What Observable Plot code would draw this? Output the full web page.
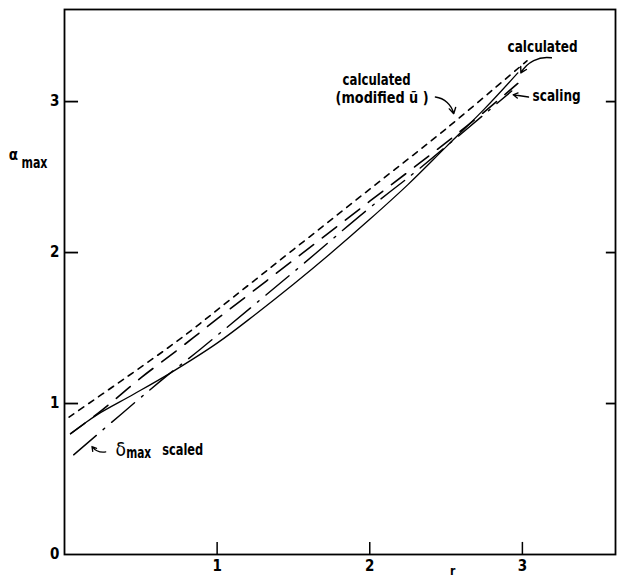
<!DOCTYPE html>
<html><head><meta charset="utf-8">
<script src="https://cdn.jsdelivr.net/npm/d3@7"></script>
<script src="https://cdn.jsdelivr.net/npm/@observablehq/plot@0.6"></script>
<style>body{margin:0;background:#fff}</style>
</head><body><div id="chart"></div>
<script>
// ---- data ----
const xTicks = [1, 2, 3];
const yTicks = [0, 1, 2, 3];

// calculated (solid)
const calcR = [0.04, 0.12, 0.22, 0.45, 0.69, 1.0, 1.25, 1.5, 1.75, 2.0, 2.25, 2.5, 2.75, 2.97];
const calcA = [0.80, 0.86, 0.93, 1.06, 1.20, 1.40, 1.59, 1.79, 2.00, 2.22, 2.45, 2.70, 2.95, 3.19];
// scaling (long dashes)
const scalR = [0.04, 0.25, 0.5, 0.76, 1.0, 1.5, 2.0, 2.4, 2.7, 2.97];
const scalA = [0.80, 0.96, 1.17, 1.37, 1.56, 1.95, 2.34, 2.65, 2.89, 3.12];
// calculated (modified u~) (short dashes)
const modR = [0.03, 0.4, 0.76, 1.1, 1.5, 2.0, 2.5, 3.03];
const modA = [0.91, 1.17, 1.43, 1.70, 2.02, 2.42, 2.82, 3.27];
// delta_max scaled (dash-dot)
const delR = [0.06, 0.63, 0.89, 1.5, 1.98, 2.33, 2.93];
const delA = [0.66, 1.15, 1.36, 1.87, 2.28, 2.56, 3.07];

// annotation texts
const labels = [
  {x: 2.903, y: 3.36, t: "calculated", w: 70, fs: 16},
  {x: 1.822, y: 3.145, t: "calculated", w: 68, fs: 16},
  {x: 1.776, y: 3.025, t: "(modified ũ )", w: 93, fs: 16},
  {x: 3.067, y: 3.036, t: "scaling", w: 48, fs: 16},
  {x: 0.404, y: 0.674, t: "max", w: 25, fs: 15},
  {x: 0.640, y: 0.691, t: "scaled", w: 41, fs: 16},
  {x: -0.282, y: 2.597, t: "max", w: 26, fs: 16}
];

const zip = (xs, ys) => xs.map((r, i) => ({r, a: ys[i]}));
const font = "'DejaVu Sans Condensed','DejaVu Sans',sans-serif";
const xMax = 3.61, yMax = 3.61;

const chart = Plot.plot({
  width: 617, height: 581,
  marginLeft: 64, marginRight: 2, marginTop: 9, marginBottom: 27,
  style: {fontFamily: font, background: "white", color: "black"},
  x: {domain: [0, xMax]},
  y: {domain: [0, yMax]},
  marks: [
    Plot.frame({stroke: "black", strokeWidth: 1.8}),
    Plot.axisX(xTicks, {tickSize: 0, tickPadding: 6, fontSize: 15, fontWeight: "bold", label: null, tickFormat: d => String(d)}),
    Plot.axisY(yTicks, {tickSize: 0, tickPadding: 5, fontSize: 15, fontWeight: "bold", label: null, tickFormat: d => String(d)}),
    Plot.ruleY(yTicks.filter(d => d > 0), {y: d => d, x1: 0, x2: 0.092, stroke: "black", strokeWidth: 1.8}),
    Plot.ruleY(yTicks.filter(d => d > 0), {y: d => d, x1: xMax - 0.06, x2: xMax, stroke: "black", strokeWidth: 1.8}),
    Plot.ruleX(xTicks, {x: d => d, y1: 0, y2: 0.08, stroke: "black", strokeWidth: 1.5}),
    Plot.line(zip(calcR, calcA), {x: "r", y: "a", stroke: "black", strokeWidth: 1.3, curve: "catmull-rom"}),
    Plot.line(zip(scalR, scalA), {x: "r", y: "a", stroke: "black", strokeWidth: 1.6, strokeDasharray: "18,11", curve: "catmull-rom"}),
    Plot.line(zip(modR, modA), {x: "r", y: "a", stroke: "black", strokeWidth: 1.6, strokeDasharray: "6,6", curve: "catmull-rom"}),
    Plot.line(zip(delR, delA), {x: "r", y: "a", stroke: "black", strokeWidth: 1.4, strokeDasharray: "30,9,2,9", curve: "catmull-rom"}),
    // arrows
    Plot.arrow([{x1: 3.19, y1: 3.29, x2: 2.99, y2: 3.19}], {x1: "x1", y1: "y1", x2: "x2", y2: "y2", bend: -35, headLength: 7, strokeWidth: 1.4, stroke: "black"}),
    Plot.arrow([{x1: 2.43, y1: 3.03, x2: 2.55, y2: 2.92}], {x1: "x1", y1: "y1", x2: "x2", y2: "y2", bend: 35, headLength: 7, strokeWidth: 1.4, stroke: "black"}),
    Plot.arrow([{x1: 3.04, y1: 3.03, x2: 2.94, y2: 3.045}], {x1: "x1", y1: "y1", x2: "x2", y2: "y2", headLength: 7, strokeWidth: 1.4, stroke: "black"}),
    Plot.arrow([{x1: 0.27, y1: 0.68, x2: 0.18, y2: 0.715}], {x1: "x1", y1: "y1", x2: "x2", y2: "y2", bend: 30, headLength: 6, strokeWidth: 1.3, stroke: "black"}),
    // labels
    Plot.text(labels, {x: "x", y: "y", text: "t", fontSize: "fs", textAnchor: "start", lineAnchor: "middle", fill: "black", fontWeight: "bold"}),
    Plot.text([{x: 0.334, y: 0.694, t: "δ"}], {x: "x", y: "y", text: "t", fontSize: 19, textAnchor: "start", fill: "black"}),
    Plot.text([{x: -0.365, y: 2.643, t: "α"}], {x: "x", y: "y", text: "t", fontSize: 15, textAnchor: "start", fill: "black", fontWeight: "bold"}),
    Plot.text([{x: 2.543, y: -0.079, t: "r"}], {x: "x", y: "y", text: "t", fontSize: 12, textAnchor: "middle", lineAnchor: "top", fill: "black", fontWeight: "bold"})
  ]
});
// squeeze the condensed lettering to the widths seen in the reference
d3.select(chart).selectAll("text").each(function () {
  const el = this;
  const t = el.textContent;
  for (const l of labels) {
    if (l.t === t && !el.hasAttribute("textLength")) {
      const xPos = +((el.getAttribute("transform") || "").match(/translate\(([-\d.]+)/) || [0, el.getAttribute("x")])[1];
      const expected = 64 + l.x * (551 / xMax);
      if (Math.abs(xPos - expected) < 3) {
        el.setAttribute("textLength", l.w);
        el.setAttribute("lengthAdjust", "spacingAndGlyphs");
      }
    }
  }
});
document.getElementById("chart").appendChild(chart);
</script>
</body></html>
